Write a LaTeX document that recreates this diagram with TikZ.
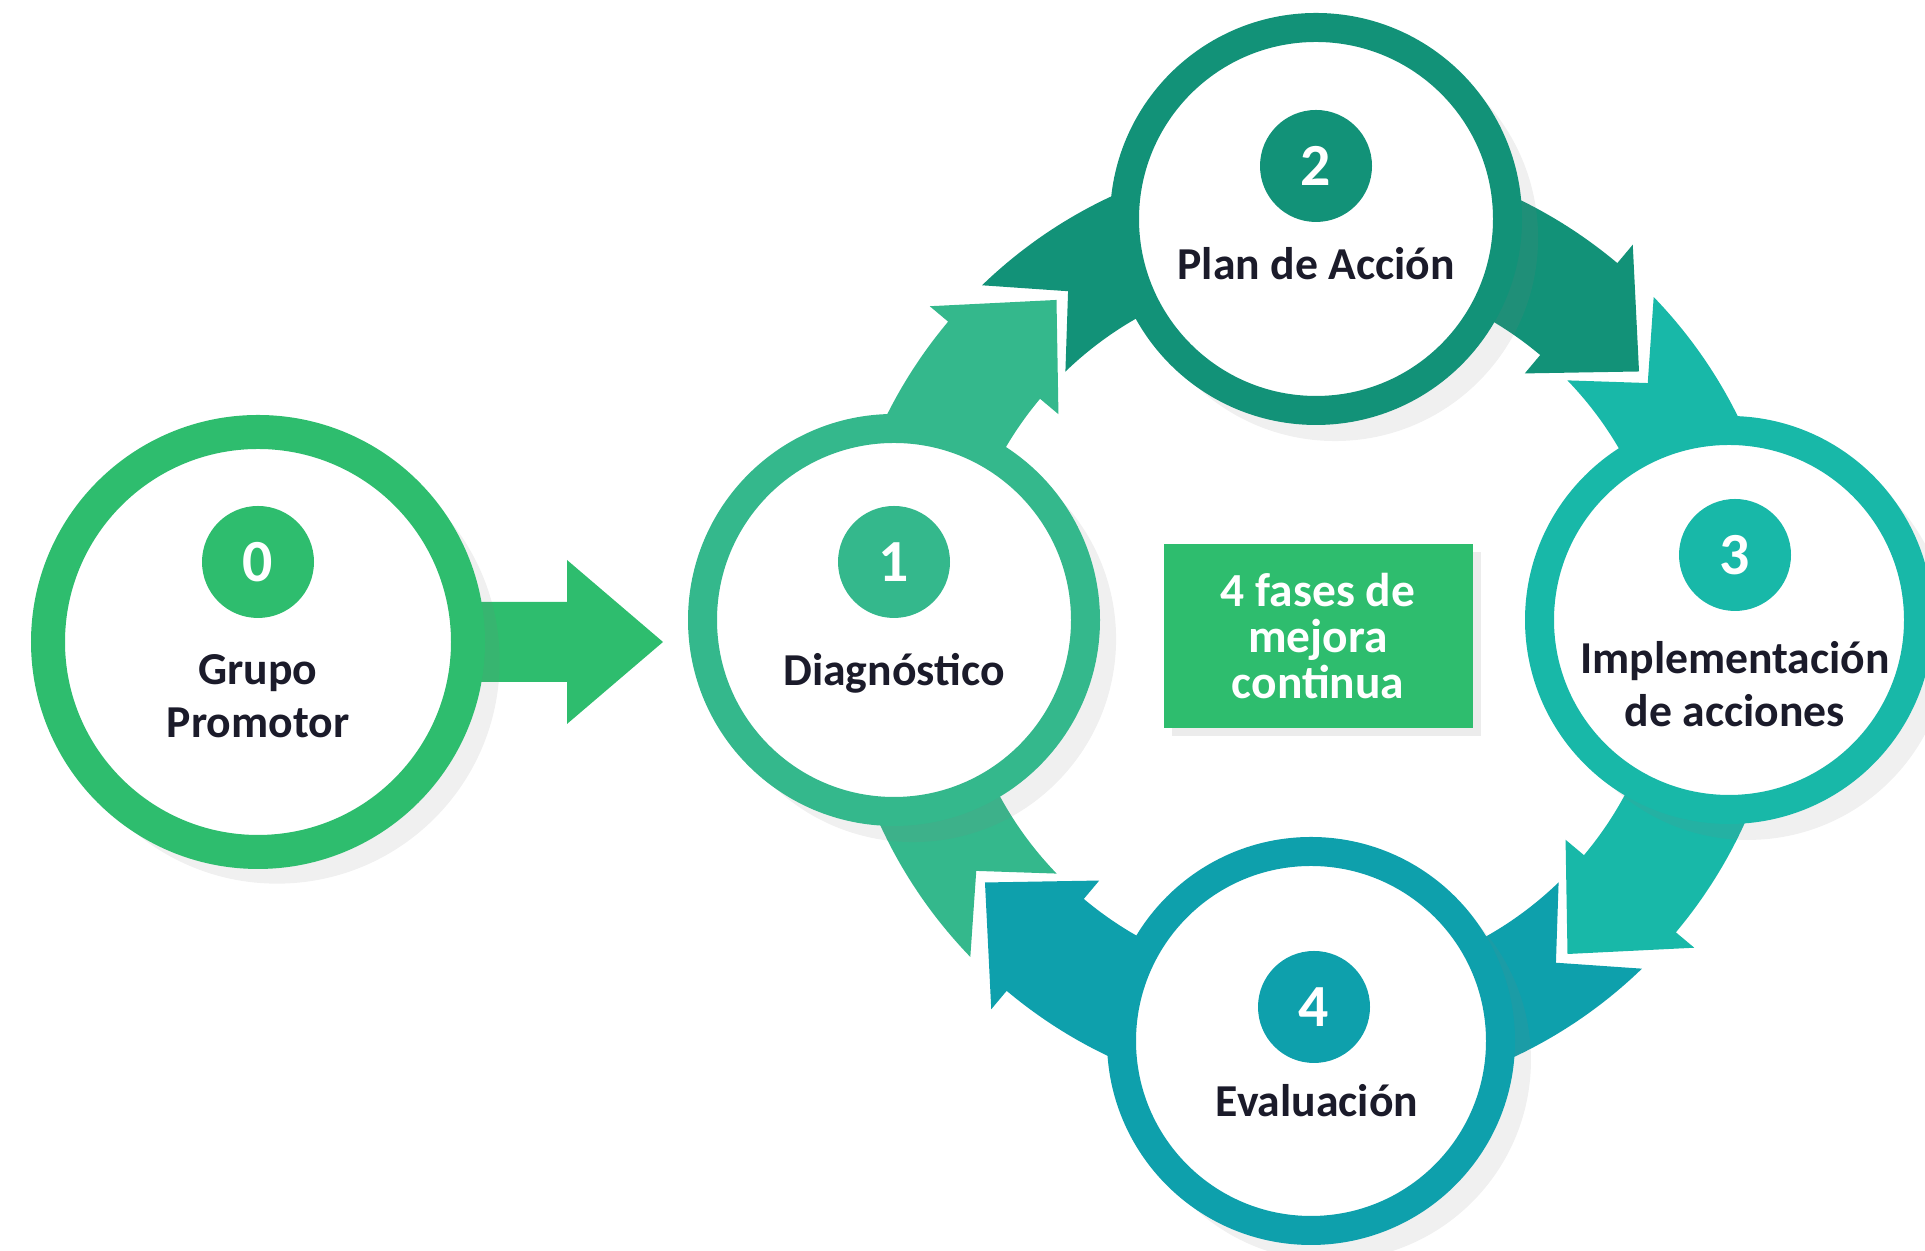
\documentclass[tikz,border=0pt]{standalone}
\usepackage{fontspec}
\setmainfont{Carlito}
\usetikzlibrary{calc,shadows}
\definecolor{phaseA}{HTML}{2EBD6E}
\definecolor{phaseB}{HTML}{34B88C}
\definecolor{phaseC}{HTML}{129278}
\definecolor{phaseD}{HTML}{18B8A8}
\definecolor{phaseE}{HTML}{0EA0AC}
\definecolor{ink}{HTML}{1B1B2A}
\tikzset{
    ring/.style={
        circle, draw=#1, fill=white, line width=2.9mm, minimum size=3.79cm,
        drop shadow={shadow xshift=1.8mm, shadow yshift=-1.8mm, shadow scale=1.06, opacity=.12}
    },
    badge/.style={
        circle, fill=#1, minimum size=1.12cm, inner sep=0pt, text=white,
        font=\fontsize{17}{17}\selectfont\bfseries
    },
    phasetext/.style={align=center, text=ink, font=\fontsize{13}{15}\selectfont\bfseries},
    fasebox/.style={
        fill=phaseA, text=white, minimum width=3.09cm, minimum height=1.84cm,
        align=center, font=\fontsize{13.5}{13}\selectfont\bfseries,
        drop shadow={shadow xshift=.8mm, shadow yshift=-.8mm, opacity=.15}
    },
}
\begin{document}
\begin{tikzpicture}
\useasboundingbox (0,0) rectangle (19.25,12.51);
\coordinate (loop) at (13.12,6.24);

% curved bands of the cycle, one per phase
\begin{scope}[shift={(loop)}]
\foreach \a/\col in {180/phaseB, 90/phaseC, 0/phaseD, -90/phaseE}{
    \fill[\col] ({\a+36}:4.15) -- ({\a+44}:4.75)
        arc[start angle=\a+44, end angle=\a-40, radius=4.75]
        -- ({\a-40}:4.99) -- ({\a-52}:4.15) -- ({\a-40}:3.31) -- ({\a-40}:3.55)
        arc[start angle=\a-40, end angle=\a+44, radius=3.55] -- cycle;
}
\end{scope}

\coordinate (c0) at (2.58,6.09);
\coordinate (tip) at (6.63,6.09);
\fill[phaseA] ($(c0)+(1.9,0.40)$) -- ($(tip)+(-0.96,0.40)$) -- ($(tip)+(-0.96,0.82)$)
    -- (tip) -- ($(tip)+(-0.96,-0.82)$) -- ($(tip)+(-0.96,-0.40)$)
    -- ($(c0)+(1.9,-0.40)$) -- cycle;

% phases
\node[ring=phaseA, line width=3.4mm, minimum size=4.2cm] (n0) at (c0) {};
\node[ring=phaseB, minimum size=3.83cm] (n1) at (8.94,6.31) {};
\node[ring=phaseC, minimum size=3.83cm] (n2) at (13.16,10.32) {};
\node[ring=phaseD] (n3) at (17.29,6.31) {};
\node[ring=phaseE] (n4) at (13.11,2.10) {};

\node[badge=phaseA] (b0) at ([yshift=8mm]n0.center) {0};
\node[badge=phaseB] (b1) at ([yshift=5.8mm]n1.center) {1};
\node[badge=phaseC] (b2) at ([yshift=5.3mm]n2.center) {2};
\node[badge=phaseD] (b3) at ([xshift=.6mm,yshift=6.5mm]n3.center) {3};
\node[badge=phaseE] (b4) at ([xshift=.3mm,yshift=3.4mm]n4.center) {4};

\node[phasetext] (t0) at ([yshift=-5.4mm]n0.center) {Grupo\\Promotor};
\node[phasetext] (t1) at ([yshift=-5.3mm]n1.center) {Diagnóstico};
\node[phasetext] (t2) at ([yshift=-4.5mm]n2.center) {Plan de Acción};
\node[phasetext] (t3) at ([xshift=.6mm,yshift=-6.4mm]n3.center) {Implementación\\de acciones};
\node[phasetext] (t4) at ([xshift=.6mm,yshift=-6mm]n4.center) {Evaluación};

\node[fasebox] (fases) at (13.18,6.15) {4 fases de\\mejora\\continua};
\end{tikzpicture}
\end{document}
